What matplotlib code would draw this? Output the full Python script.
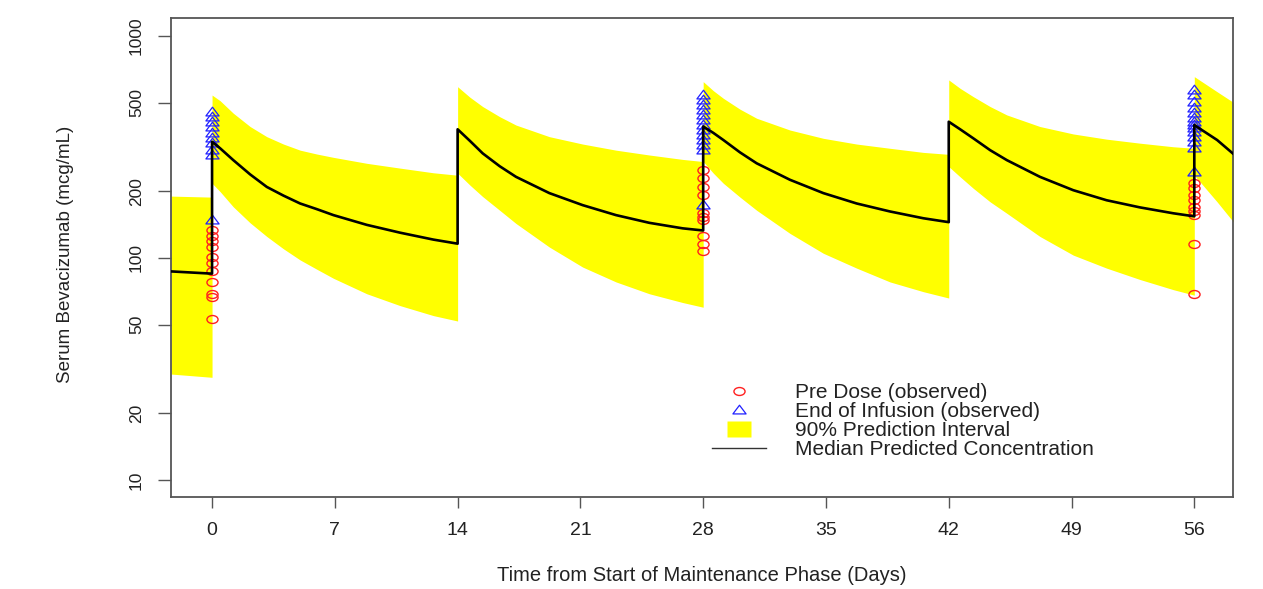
import numpy as np
import matplotlib.pyplot as plt
from matplotlib.lines import Line2D
from matplotlib.path import Path
from matplotlib.transforms import Affine2D
from matplotlib.ticker import NullLocator

# predicted profile; dose days appear twice (trough, then peak)
pred_day = [-2.34, 0,
            0, 0.46, 1.21, 2.17, 3.12, 4.07, 5.02, 5.97, 6.92, 8.82, 10.72, 12.62, 14,
            14, 14.7, 15.43, 16.4, 17.33, 19.23, 21.13, 23.03, 24.93, 26.83, 28,
            28, 28.58, 29.15, 30.1, 31.05, 32.95, 34.85, 36.75, 38.65, 40.55, 42,
            42, 42.65, 43.4, 44.36, 45.31, 47.2, 49.1, 51.0, 52.9, 54.8, 56,
            56, 57.3, 58.3]
pred_median = [87, 85,
               334, 312, 276, 238, 209, 191, 176, 166, 156, 141, 130, 121, 116,
               380, 337, 296, 259, 232, 196, 173, 156, 144, 136, 133,
               391, 366, 340, 299, 267, 225, 196, 176, 162, 151, 145,
               411, 380, 346, 306, 276, 232, 202, 182, 169, 159, 154,
               397, 340, 291]
pred_upper = [190, 188,
              542, 511, 449, 391, 352, 326, 306, 294, 284, 267, 254, 242, 236,
              591, 530, 481, 433, 397, 352, 326, 306, 291, 278, 272,
              623, 567, 524, 468, 426, 377, 346, 326, 312, 299, 293,
              634, 581, 533, 481, 441, 391, 362, 343, 329, 317, 312,
              656, 561, 498]
pred_lower = [30, 29,
              217, 199, 170, 144, 125, 110, 98, 89, 81, 69, 61, 55, 52,
              241, 213, 189, 164, 143, 112, 91, 78, 69, 63, 60,
              272, 241, 217, 188, 164, 129, 105, 90, 78, 70.5, 66,
              258, 232, 206, 179, 159, 125, 103, 90, 80, 72, 68,
              236, 179, 143]

# observed concentrations at each sampling day
obs_days = [0, 28, 56]
pre_dose = [[134, 125, 119, 112, 101, 95, 87, 78, 69, 67, 53],
            [249, 229, 209, 192, 159, 153, 148, 125, 116, 107],
            [217, 206, 192, 182, 170, 162, 156, 116, 69]]
end_infusion = [[455, 431, 410, 389, 366, 347, 330, 306, 291, 148],
                [542, 515, 489, 464, 441, 418, 397, 377, 358, 340, 323, 306, 173],
                [571, 542, 506, 472, 449, 426, 411, 397, 384, 371, 352, 334, 312, 245]]

x_ticks = [0, 7, 14, 21, 28, 35, 42, 49, 56]
y_ticks = [10, 20, 50, 100, 200, 500, 1000]

plt.rcParams['font.family'] = ['Liberation Sans', 'DejaVu Sans']

# slightly wide marker shapes (the original picture is stretched sideways)
oval = Path.unit_circle().transformed(Affine2D().scale(1.4, 1.0))
tri = Path([(0, 1), (-1.25, -0.65), (1.25, -0.65), (0, 1)], closed=True)
rect = Path([(-1.6, -1), (1.6, -1), (1.6, 1), (-1.6, 1), (-1.6, -1)], closed=True)

fig = plt.figure(figsize=(12.63, 5.89), dpi=100)
ax = fig.add_axes([0.1354, 0.1562, 0.8409, 0.8132])

ax.fill_between(pred_day, pred_lower, pred_upper, color='#ffff00', lw=0, zorder=1)
for d, vals in zip(obs_days, pre_dose):
    ax.plot(np.full(len(vals), d), vals, ls='none', marker=oval, ms=8,
            mfc='none', mec='#ff2020', mew=1.0, zorder=3)
for d, vals in zip(obs_days, end_infusion):
    ax.plot(np.full(len(vals), d), vals, ls='none', marker=tri, ms=9.5,
            mfc='none', mec='#2020ff', mew=0.9, zorder=3)
ax.plot(pred_day, pred_median, color='black', lw=1.9, zorder=4)

ax.set_yscale('log')
ax.set_xlim(-2.34, 58.21)
ax.set_ylim(8.38, 1205)
ax.yaxis.set_minor_locator(NullLocator())
ax.set_xticks(x_ticks, labels=[str(t) for t in x_ticks])
ax.set_yticks(y_ticks, labels=[str(t) for t in y_ticks], rotation=90, va='center')
ax.tick_params(axis='x', length=8, width=1, color='#555555', pad=10,
               labelsize=14, labelcolor='#222222')
ax.tick_params(axis='y', length=9.5, width=1, color='#555555', pad=10,
               labelsize=12.5, labelcolor='#222222')
for s in ax.spines.values():
    s.set_color('#555555')
    s.set_linewidth(1.3)

ax.set_xlabel('Time from Start of Maintenance Phase (Days)', fontsize=14.5,
              color='#222222', va='center')
ax.xaxis.set_label_coords(0.5, -0.163)
ax.set_ylabel('Serum Bevacizumab (mcg/mL)', fontsize=13.5, color='#222222',
              va='center', ha='center')
ax.yaxis.set_label_coords(-0.0998, 0.507)

handles = [
    Line2D([], [], ls='none', marker=oval, ms=8, mfc='none', mec='#ff2020', mew=1.0),
    Line2D([], [], ls='none', marker=tri, ms=9.5, mfc='none', mec='#2020ff', mew=0.9),
    Line2D([], [], ls='none', marker=rect, ms=17.3, mfc='#ffff00', mec='none'),
    Line2D([], [], color='#333333', lw=1.0),
]
labels = ['Pre Dose (observed)', 'End of Infusion (observed)',
          '90% Prediction Interval', 'Median Predicted Concentration']
ax.legend(handles, labels, loc='upper left', bbox_to_anchor=(0.5094, 0.237),
          frameon=False, fontsize=15, borderpad=0, borderaxespad=0,
          handlelength=2.6, handletextpad=1.4, labelspacing=0.0,
          labelcolor='#222222')

fig.savefig('out.png', dpi=100)
